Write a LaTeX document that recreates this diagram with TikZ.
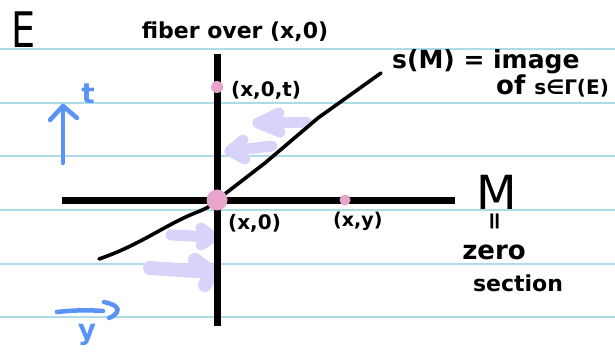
\documentclass[tikz,border=0pt]{standalone}
\usepackage{fontspec}
\setmainfont{DejaVu Sans}
\definecolor{ruled}{HTML}{AEDCE6}
\definecolor{ink}{HTML}{000000}
\definecolor{pinkdot}{HTML}{E8A4CA}
\definecolor{lav}{HTML}{D8D3F8}
\definecolor{bluepen}{HTML}{5A93F6}
\newcommand{\fsz}[1]{\fontsize{#1}{#1}\selectfont}
\tikzset{
  rule/.style={ruled, line width=1.6pt},
  axis/.style={ink, line width=7pt},
  curve/.style={ink, line width=3.6pt, line cap=round, line join=round},
  lavarrow/.style={lav, line width=11pt, line cap=round, line join=round},
  bluearrow/.style={bluepen, line width=4.5pt, line cap=round, line join=round},
  dot/.style={circle, fill=pinkdot, inner sep=0pt},
  hand/.style={inner sep=0pt, text=ink},
}
\begin{document}
\begin{tikzpicture}[x=1pt, y=-1pt]
\useasboundingbox (0,0) rectangle (615,352);
\fill[white] (0,0) rectangle (615,352);
% ruled lines
\foreach \yy in {49,103,156,210,264,317}
  \draw[rule] (0,\yy) -- (615,\yy);
% lavender arrows
\coordinate (a1t) at (307,123); \coordinate (a1h) at (258,123);
\coordinate (a1u) at (279,113); \coordinate (a1d) at (280,132);
\draw[lavarrow] (a1t) -- (a1h); \draw[lavarrow] (a1u) -- (a1h) -- (a1d);
\coordinate (a2t) at (272,146); \coordinate (a2h) at (230,151);
\coordinate (a2u) at (243,140); \coordinate (a2d) at (245,159);
\draw[lavarrow] (a2t) -- (a2h); \draw[lavarrow] (a2u) -- (a2h) -- (a2d);
\coordinate (a3t) at (171,235); \coordinate (a3h) at (213,237);
\coordinate (a3u) at (201,228); \coordinate (a3d) at (201,245);
\draw[lavarrow] (a3t) -- (a3h); \draw[lavarrow] (a3u) -- (a3h) -- (a3d);
\coordinate (a4t) at (150,268); \coordinate (a4h) at (211,272);
\coordinate (a4u) at (195,260); \coordinate (a4d) at (205,285);
\draw[lavarrow, line width=14pt] (a4t) -- (a4h);
\draw[lavarrow, line width=14pt] (a4u) -- (a4h) -- (a4d);
% axes
\coordinate (vtop) at (217,54); \coordinate (vbot) at (217,326);
\coordinate (hleft) at (62,201); \coordinate (hright) at (455,201);
\draw[axis] (vtop) -- (vbot);
\draw[axis] (hleft) -- (hright);
% section curve
\coordinate (cstart) at (99,259);
\coordinate (origin) at (217,200);
\coordinate (cend) at (381,73);
\draw[curve] (cstart) .. controls (140,245) and (165,225) .. (195,213)
  .. controls (205,209) and (210,207) .. (origin)
  -- (265,163) -- (318,118) -- (cend);
% dots
\node[dot, minimum size=21pt] (p0) at (origin) {};
\node[dot, minimum size=12pt] (pt) at (217,87) {};
\node[dot, minimum size=11pt] (py) at (345,200) {};
% blue arrows
\coordinate (tb) at (63,163); \coordinate (tt) at (63,106);
\draw[bluearrow] (tb) -- (tt);
\draw[bluearrow] (50,120) -- (tt) -- (77,118);
\node[inner sep=0pt, text=bluepen, font=\bfseries\fsz{28}] (tlab) at (88,94) {t};
\coordinate (yl) at (57,312); \coordinate (yr) at (103,311);
\draw[bluearrow] (yl) .. controls (75,310) and (90,310) .. (yr);
\draw[bluearrow] (104,302) .. controls (114,304) and (120,308) .. (117,312) .. controls (114,316) and (112,317) .. (109,318);
\node[inner sep=0pt, text=bluepen, font=\bfseries\fsz{28}] (ylab) at (87,335) {y};
% labels
\node[hand, font=\fsz{49}] (E) at (24,30) {\scalebox{0.78}[1]{E}};
\node[hand, font=\bfseries\fsz{22}] (fib) at (235,32) {fiber over (x,0)};
\node[hand, anchor=west, font=\bfseries\fsz{20}] (xot) at (231,90) {(x,0,t)};
\node[hand, anchor=west, font=\bfseries\fsz{25}] (sM) at (392,62) {s(M) = image};
\node[hand, anchor=west, font=\bfseries\fsz{26}] (ofs) at (496,86) {of {\fsz{20}s∈Γ(E)}};
\node[hand, anchor=west, font=\bfseries\fsz{20}] (xo) at (228,223) {(x,0)};
\node[hand, anchor=west, font=\bfseries\fsz{19}] (xy) at (333,221) {(x,y)};
\node[hand, font=\fsz{47}] (M) at (497,192) {M};
\node[hand, rotate=90, font=\bfseries\fsz{24}] (eq) at (497,221) {=};
\node[hand, font=\bfseries\fsz{26}] (zero) at (494,252) {zero};
\node[hand, font=\bfseries\fsz{22}] (sec) at (518,283) {section};
\end{tikzpicture}
\end{document}
